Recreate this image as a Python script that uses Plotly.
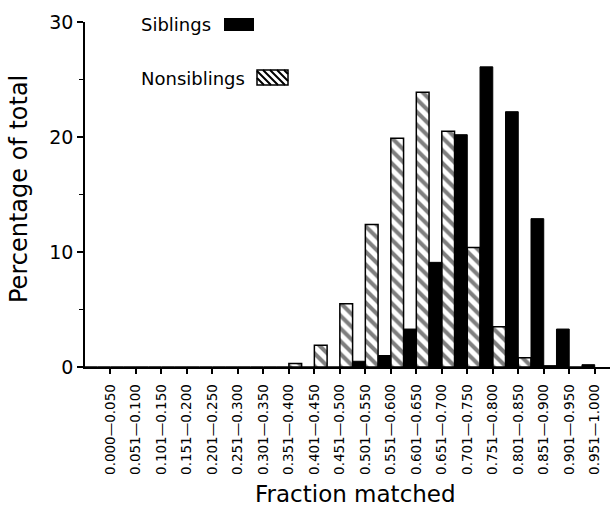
import plotly.graph_objects as go

# ---- data ----
bins = ["0.000—0.050", "0.051—0.100", "0.101—0.150", "0.151—0.200", "0.201—0.250",
        "0.251—0.300", "0.301—0.350", "0.351—0.400", "0.401—0.450", "0.451—0.500",
        "0.501—0.550", "0.551—0.600", "0.601—0.650", "0.651—0.700", "0.701—0.750",
        "0.751—0.800", "0.801—0.850", "0.851—0.900", "0.901—0.950", "0.951—1.000"]
nonsiblings = [0, 0, 0, 0, 0, 0, 0, 0, 0.3, 1.9, 5.5, 12.4, 19.9, 23.9, 20.5, 10.4, 3.5, 0.8, 0.1, 0]
siblings = [0, 0, 0, 0, 0, 0, 0, 0, 0, 0, 0.5, 1.0, 3.3, 9.1, 20.2, 26.1, 22.2, 12.9, 3.3, 0.2]
y_ticks = [0, 10, 20, 30]

# ---- layout geometry ----
W, H = 614, 508
ML, MR, MT, MB = 85, 4, 22, 141
PW, PH = W - ML - MR, H - MT - MB
FONT = "DejaVu Sans"


def px(x):
    return (x - ML) / PW


def py(y):
    return (H - MB - y) / PH


pos = list(range(len(bins)))

fig = go.Figure()
fig.add_trace(go.Bar(
    x=pos, y=nonsiblings, width=0.5, offset=-1.0, name="Nonsiblings",
    marker=dict(color="white", line=dict(color="black", width=1.5),
                pattern=dict(shape="\\", fgcolor="black", bgcolor="white",
                             size=9, solidity=0.45)),
    showlegend=False))
fig.add_trace(go.Bar(
    x=pos, y=siblings, width=0.5, offset=-0.5, name="Siblings",
    marker=dict(color="black", line=dict(color="black", width=1)),
    showlegend=False))

# legend (text left of swatch, as in the reference)
shapes = [
    dict(type="rect", xref="paper", yref="paper", x0=px(224), x1=px(254),
         y0=py(31), y1=py(18), fillcolor="black", line=dict(width=0)),
    dict(type="rect", xref="paper", yref="paper", x0=px(257), x1=px(288),
         y0=py(85), y1=py(70), fillcolor="white", line=dict(color="black", width=1.5)),
]
# hatch lines inside the nonsiblings swatch
hx0, hx1, hy0, hy1 = 257, 288, 70, 85
h = hy1 - hy0
path = ""
t = -h
while t < hx1 - hx0:
    xs, ys = hx0 + t, hy0
    xe, ye = hx0 + t + h, hy1
    if xs < hx0:
        ys = hy0 + (hx0 - xs)
        xs = hx0
    if xe > hx1:
        ye = hy1 - (xe - hx1)
        xe = hx1
    path += f"M{px(xs)},{py(ys)} L{px(xe)},{py(ye)} "
    t += 7
shapes.append(dict(type="path", xref="paper", yref="paper", path=path,
                   line=dict(color="black", width=2)))

annotations = [
    dict(text="Siblings", x=px(139), y=py(25), xref="paper", yref="paper",
         xanchor="left", yanchor="middle", showarrow=False,
         font=dict(family=FONT, size=18, color="black")),
    dict(text="Nonsiblings", x=px(139), y=py(78), xref="paper", yref="paper",
         xanchor="left", yanchor="middle", showarrow=False,
         font=dict(family=FONT, size=18, color="black")),
    dict(text="Fraction matched", x=px(355), y=py(508), xref="paper", yref="paper",
         xanchor="center", yanchor="bottom", showarrow=False, borderpad=0,
         font=dict(family=FONT, size=23, color="black")),
    dict(text="Percentage of total", x=px(19), y=py(189), xref="paper", yref="paper",
         xanchor="center", yanchor="middle", showarrow=False, textangle=-90,
         font=dict(family=FONT, size=24, color="black")),
]

fig.update_layout(
    width=W, height=H,
    margin=dict(l=ML, r=MR, t=MT, b=MB, pad=0),
    paper_bgcolor="white", plot_bgcolor="white",
    barmode="overlay",
    font=dict(family=FONT, color="black"),
    shapes=shapes, annotations=annotations,
    xaxis=dict(range=[-1, len(bins) - 0.4], tickmode="array", tickvals=pos, ticktext=bins,
               tickangle=-90, ticks="outside", ticklen=5, tickwidth=1.5, tickcolor="black",
               showline=True, linecolor="black", linewidth=1.5, showgrid=False,
               zeroline=False, tickfont=dict(family=FONT, size=13.5, color="black"),
               ticklabelstandoff=5, fixedrange=True),
    yaxis=dict(range=[0, 30], tickmode="array", tickvals=y_ticks, ticks="outside",
               ticklen=6, tickwidth=1.5, tickcolor="black",
               minor=dict(dtick=5, ticks="outside", ticklen=4, tickwidth=1.2, tickcolor="black",
                          showgrid=False),
               showline=True, linecolor="black", linewidth=1.5, showgrid=False,
               zeroline=False, tickfont=dict(family=FONT, size=19, color="black"),
               fixedrange=True),
)

fig.write_html("out.html")
